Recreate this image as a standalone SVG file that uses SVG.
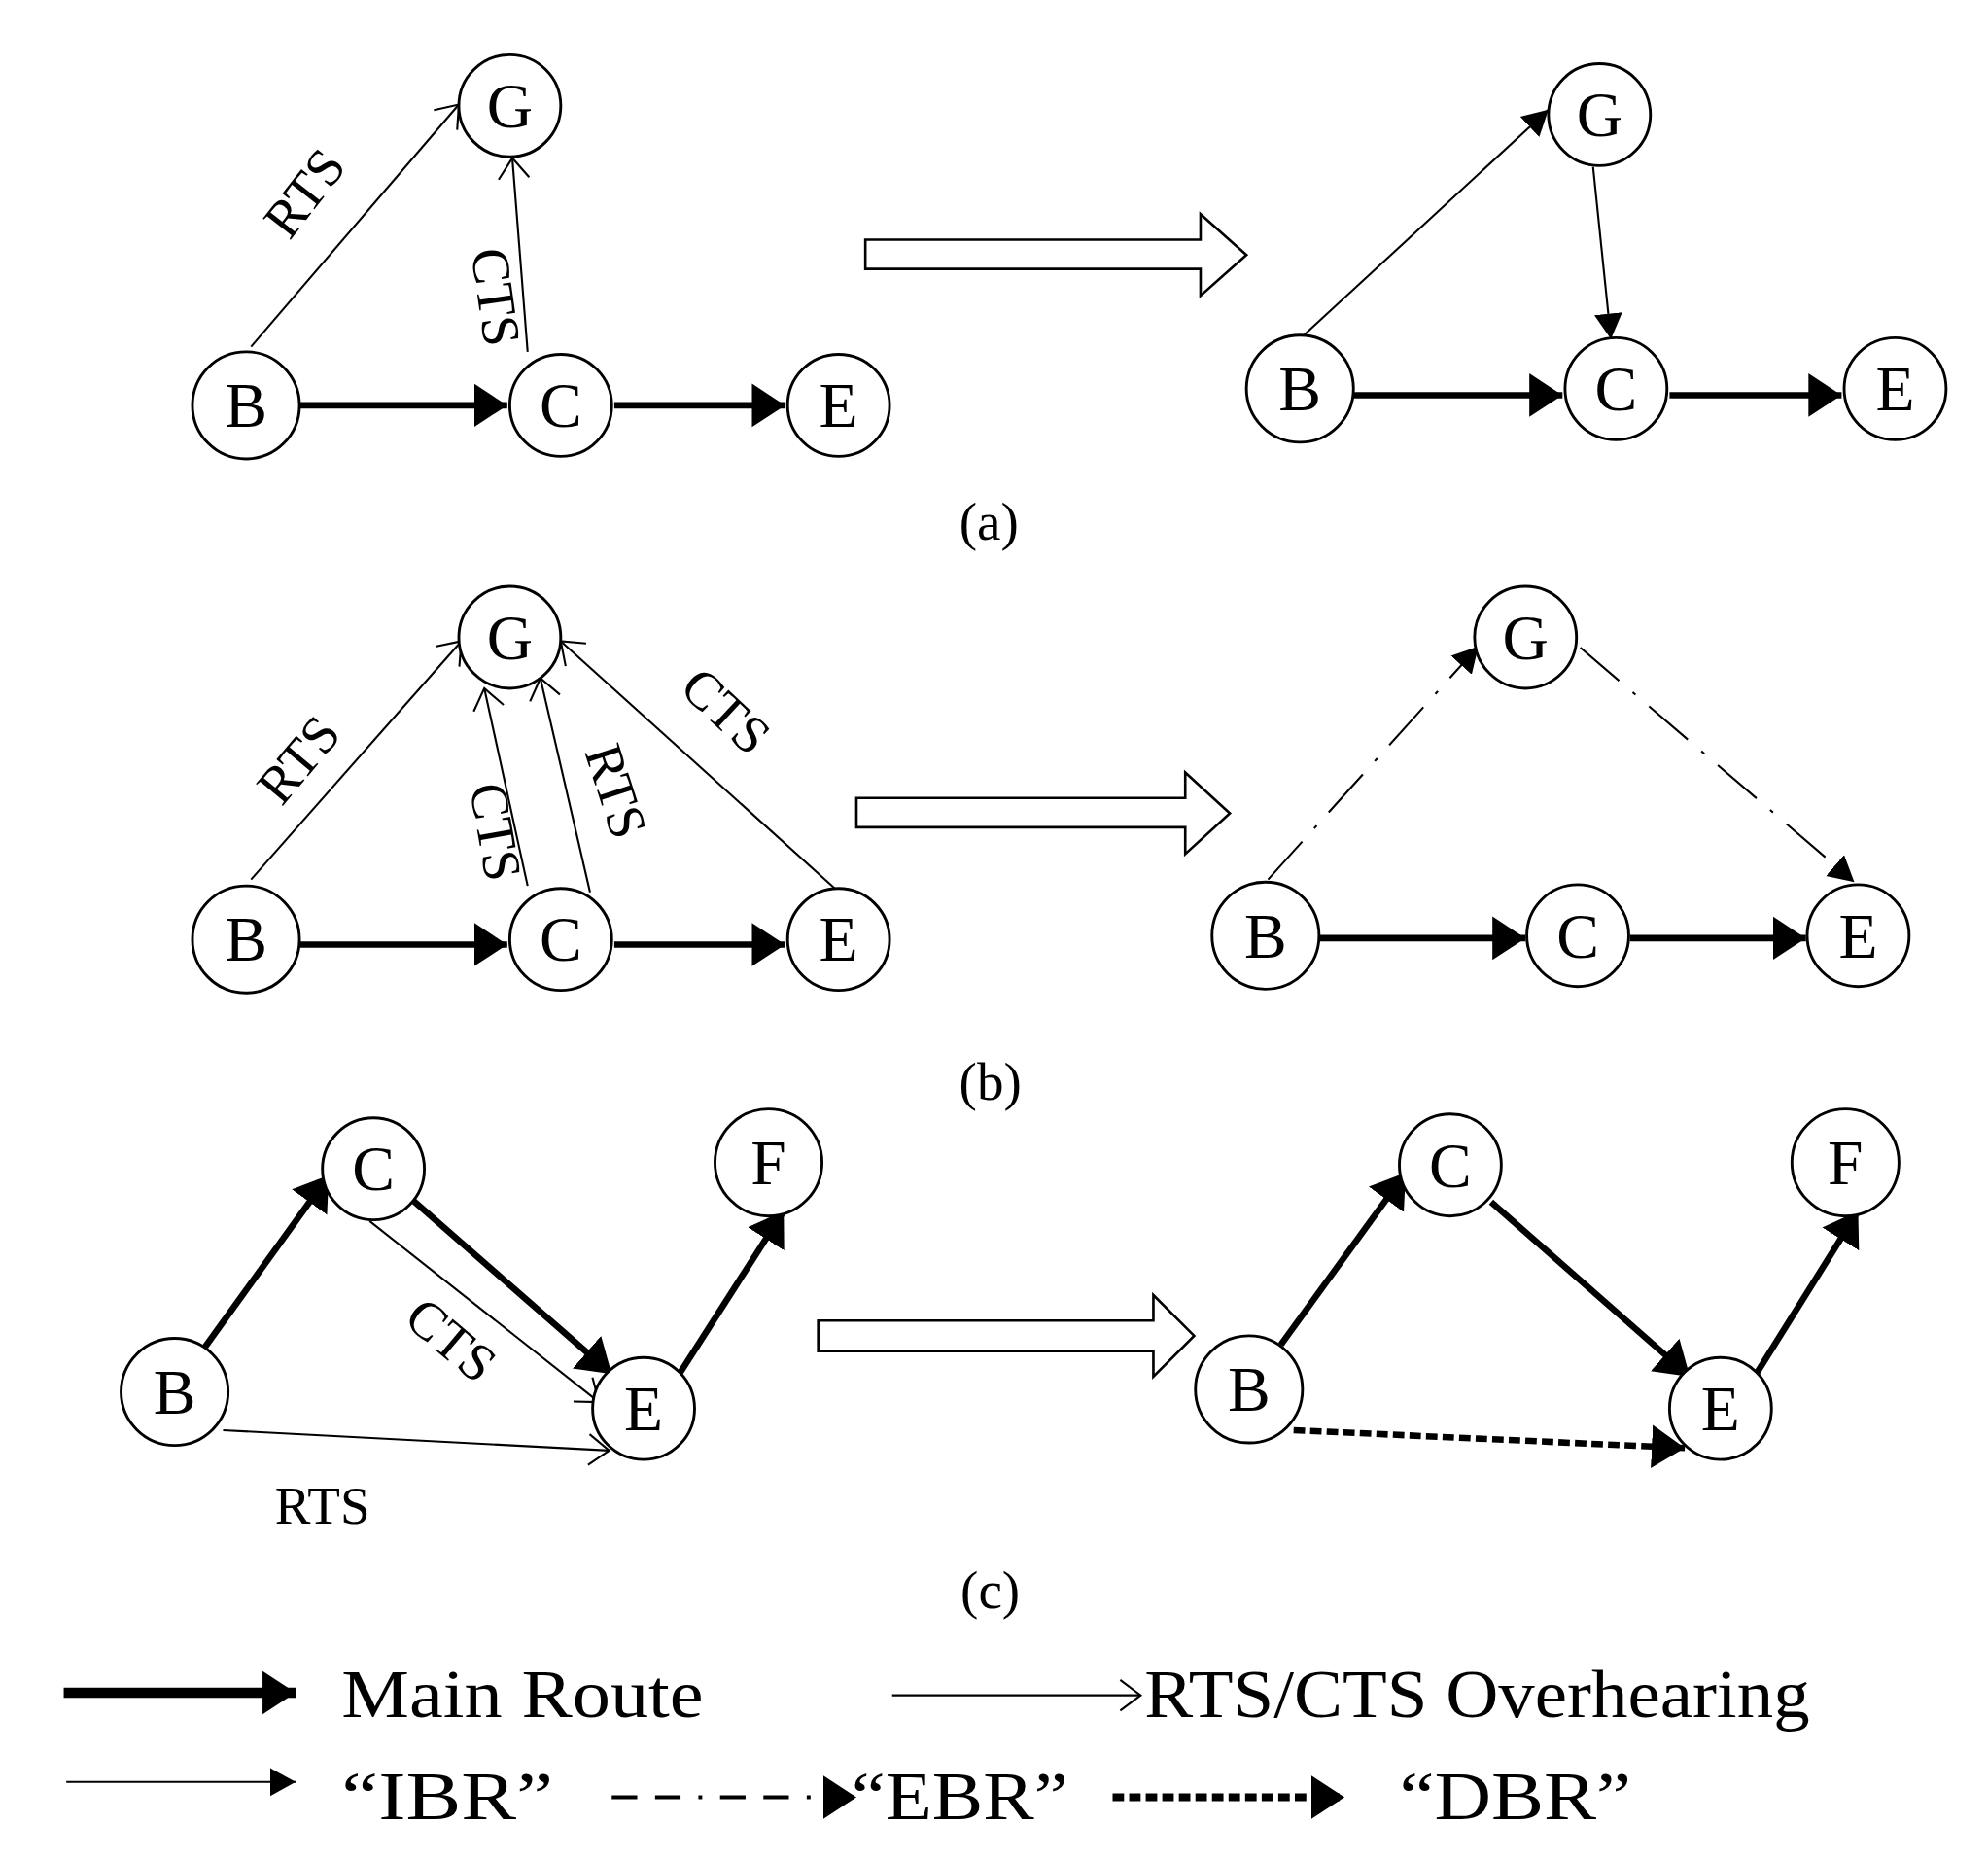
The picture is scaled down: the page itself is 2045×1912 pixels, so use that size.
<svg xmlns="http://www.w3.org/2000/svg" width="2045" height="1912" viewBox="0 0 2045 1912">
<style>
.n circle{fill:#fff;stroke:#000;stroke-width:2.2}
text{font-family:"Liberation Serif","Times New Roman",serif;fill:#000}
.n text{font-size:50px;text-anchor:middle}
.lb{font-size:42px}
.thick{stroke:#000;stroke-width:5;fill:none}
.thin{stroke:#000;stroke-width:1.6;fill:none}
.hollow{fill:#fff;stroke:#000;stroke-width:2}
</style>
<defs>
<marker id="fa" markerUnits="userSpaceOnUse" markerWidth="30" markerHeight="40" refX="26" refY="20" orient="auto"><path d="M0,3 L26,20 L0,37 Z" fill="#000"/></marker>
<marker id="fs" markerUnits="userSpaceOnUse" markerWidth="24" markerHeight="30" refX="20" refY="15" orient="auto"><path d="M0,4 L20,15 L0,26 Z" fill="#000"/></marker>
<marker id="oa" markerUnits="userSpaceOnUse" markerWidth="20" markerHeight="30" refX="18" refY="15" orient="auto"><path d="M2,3 L18,15 L2,27" fill="none" stroke="#000" stroke-width="1.6"/></marker>
</defs>
<rect width="2045" height="1912" fill="#fff"/>
<g transform="scale(1.311)">
<g id="connectors">
<line class="thin" x1="197" y1="272" x2="360" y2="82" marker-end="url(#oa)"/>
<line class="thin" x1="414" y1="276" x2="402" y2="124" marker-end="url(#oa)"/>
<line class="thick" x1="235" y1="318" x2="398" y2="318" marker-end="url(#fa)"/>
<line class="thick" x1="482" y1="318" x2="616" y2="318" marker-end="url(#fa)"/>
<path class="hollow" d="M679,188 H942 V168 L978,200 L942,232 V211 H679 Z"/>
<line class="thin" x1="1022" y1="264" x2="1215" y2="86" marker-end="url(#fs)"/>
<line class="thin" x1="1250" y1="131" x2="1264" y2="266" marker-end="url(#fs)"/>
<line class="thick" x1="1062" y1="310" x2="1226" y2="310" marker-end="url(#fa)"/>
<line class="thick" x1="1310" y1="310" x2="1445" y2="310" marker-end="url(#fa)"/>
<line class="thin" x1="197" y1="690" x2="362" y2="503" marker-end="url(#oa)"/>
<line class="thin" x1="414" y1="695" x2="380" y2="540" marker-end="url(#oa)"/>
<line class="thin" x1="463" y1="700" x2="424" y2="532" marker-end="url(#oa)"/>
<line class="thin" x1="655" y1="697" x2="440" y2="503" marker-end="url(#oa)"/>
<line class="thick" x1="235" y1="741" x2="398" y2="741" marker-end="url(#fa)"/>
<line class="thick" x1="482" y1="741" x2="616" y2="741" marker-end="url(#fa)"/>
<path class="hollow" d="M672,626 H930 V606 L965,638 L930,670 V649 H672 Z"/>
<line class="thin" stroke-dasharray="40,14,3,14" x1="995" y1="690" x2="1160" y2="507" marker-end="url(#fs)"/>
<line class="thin" stroke-dasharray="40,14,3,14" x1="1240" y1="508" x2="1455" y2="692" marker-end="url(#fs)"/>
<line class="thick" x1="1035" y1="736" x2="1197" y2="736" marker-end="url(#fa)"/>
<line class="thick" x1="1279" y1="736" x2="1417" y2="736" marker-end="url(#fa)"/>
<line class="thick" x1="160" y1="1058" x2="258" y2="922" marker-end="url(#fa)"/>
<line class="thick" x1="322" y1="940" x2="480" y2="1078" marker-end="url(#fa)"/>
<line class="thin" x1="290" y1="958" x2="470" y2="1100" marker-end="url(#oa)"/>
<line class="thin" x1="175" y1="1122" x2="478" y2="1138" marker-end="url(#oa)"/>
<line class="thick" x1="533" y1="1078" x2="615" y2="950" marker-end="url(#fa)"/>
<path class="hollow" d="M642,1036 H905 V1016 L937,1048 L905,1080 V1060 H642 Z"/>
<line class="thick" x1="1005" y1="1055" x2="1103" y2="920" marker-end="url(#fa)"/>
<line class="thick" x1="1170" y1="943" x2="1326" y2="1080" marker-end="url(#fa)"/>
<line class="thick" x1="1378" y1="1078" x2="1458" y2="950" marker-end="url(#fa)"/>
<line class="thick" stroke-dasharray="9,4" x1="1015" y1="1122" x2="1322" y2="1136" marker-end="url(#fa)"/>
<line stroke="#000" stroke-width="8" x1="50" y1="1328" x2="232" y2="1328" marker-end="url(#fa)"/>
<line class="thin" stroke-width="2" x1="700" y1="1330" x2="895" y2="1330" marker-end="url(#oa)"/>
<line class="thin" stroke-width="2" x1="52" y1="1398" x2="232" y2="1398" marker-end="url(#fs)"/>
<line stroke="#000" stroke-width="3" stroke-dasharray="20,14,20,14,3,14" x1="480" y1="1410" x2="672" y2="1410" marker-end="url(#fa)"/>
<line stroke="#000" stroke-width="6" stroke-dasharray="9,4" x1="873" y1="1410" x2="1055" y2="1410" marker-end="url(#fa)"/>
</g>
<g class="lb">
<text x="250" y="160" transform="rotate(-52 250 160)" text-anchor="middle">RTS</text>
<text x="375" y="235" transform="rotate(82 375 235)" text-anchor="middle">CTS</text>
<text x="245" y="605" transform="rotate(-50 245 605)" text-anchor="middle">RTS</text>
<text x="375" y="655" transform="rotate(80 375 655)" text-anchor="middle">CTS</text>
<text x="470" y="625" transform="rotate(72 470 625)" text-anchor="middle">RTS</text>
<text x="560" y="568" transform="rotate(43 560 568)" text-anchor="middle">CTS</text>
<text x="345" y="1062" transform="rotate(40 345 1062)" text-anchor="middle">CTS</text>
<text x="253" y="1195" text-anchor="middle">RTS</text>
<text x="776" y="423" text-anchor="middle">(a)</text>
<text x="777" y="863" text-anchor="middle">(b)</text>
<text x="777" y="1262" text-anchor="middle">(c)</text>
</g>
<g font-size="54">
<text x="268" y="1347" textLength="284" lengthAdjust="spacingAndGlyphs">Main  Route</text>
<text x="898" y="1347" textLength="522" lengthAdjust="spacingAndGlyphs">RTS/CTS Overhearing</text>
<text x="268" y="1427" textLength="166" lengthAdjust="spacingAndGlyphs">“IBR”</text>
<text x="668" y="1427" textLength="170" lengthAdjust="spacingAndGlyphs">“EBR”</text>
<text x="1098" y="1427" textLength="182" lengthAdjust="spacingAndGlyphs">“DBR”</text>
</g>
<g id="aG" class="n"><circle cx="400" cy="83" r="40"/><text x="400" y="100">G</text></g>
<g id="aB" class="n"><circle cx="193" cy="318" r="42"/><text x="193" y="335">B</text></g>
<g id="aC" class="n"><circle cx="440" cy="318" r="40"/><text x="440" y="335">C</text></g>
<g id="aE" class="n"><circle cx="658" cy="318" r="40"/><text x="658" y="335">E</text></g>
<g id="a2G" class="n"><circle cx="1255" cy="90" r="40"/><text x="1255" y="107">G</text></g>
<g id="a2B" class="n"><circle cx="1020" cy="305" r="42"/><text x="1020" y="322">B</text></g>
<g id="a2C" class="n"><circle cx="1268" cy="305" r="40"/><text x="1268" y="322">C</text></g>
<g id="a2E" class="n"><circle cx="1487" cy="305" r="40"/><text x="1487" y="322">E</text></g>
<g id="bG" class="n"><circle cx="400" cy="500" r="40"/><text x="400" y="517">G</text></g>
<g id="bB" class="n"><circle cx="193" cy="737" r="42"/><text x="193" y="754">B</text></g>
<g id="bC" class="n"><circle cx="440" cy="737" r="40"/><text x="440" y="754">C</text></g>
<g id="bE" class="n"><circle cx="658" cy="737" r="40"/><text x="658" y="754">E</text></g>
<g id="b2G" class="n"><circle cx="1197" cy="500" r="40"/><text x="1197" y="517">G</text></g>
<g id="b2B" class="n"><circle cx="993" cy="734" r="42"/><text x="993" y="751">B</text></g>
<g id="b2C" class="n"><circle cx="1238" cy="734" r="40"/><text x="1238" y="751">C</text></g>
<g id="b2E" class="n"><circle cx="1458" cy="734" r="40"/><text x="1458" y="751">E</text></g>
<g id="cC" class="n"><circle cx="293" cy="917" r="40"/><text x="293" y="934">C</text></g>
<g id="cF" class="n"><circle cx="603" cy="912" r="42"/><text x="603" y="929">F</text></g>
<g id="cB" class="n"><circle cx="137" cy="1092" r="42"/><text x="137" y="1109">B</text></g>
<g id="cE" class="n"><circle cx="505" cy="1105" r="40"/><text x="505" y="1122">E</text></g>
<g id="c2C" class="n"><circle cx="1138" cy="914" r="40"/><text x="1138" y="931">C</text></g>
<g id="c2F" class="n"><circle cx="1448" cy="912" r="42"/><text x="1448" y="929">F</text></g>
<g id="c2B" class="n"><circle cx="980" cy="1090" r="42"/><text x="980" y="1107">B</text></g>
<g id="c2E" class="n"><circle cx="1350" cy="1105" r="40"/><text x="1350" y="1122">E</text></g>
</g>
</svg>
